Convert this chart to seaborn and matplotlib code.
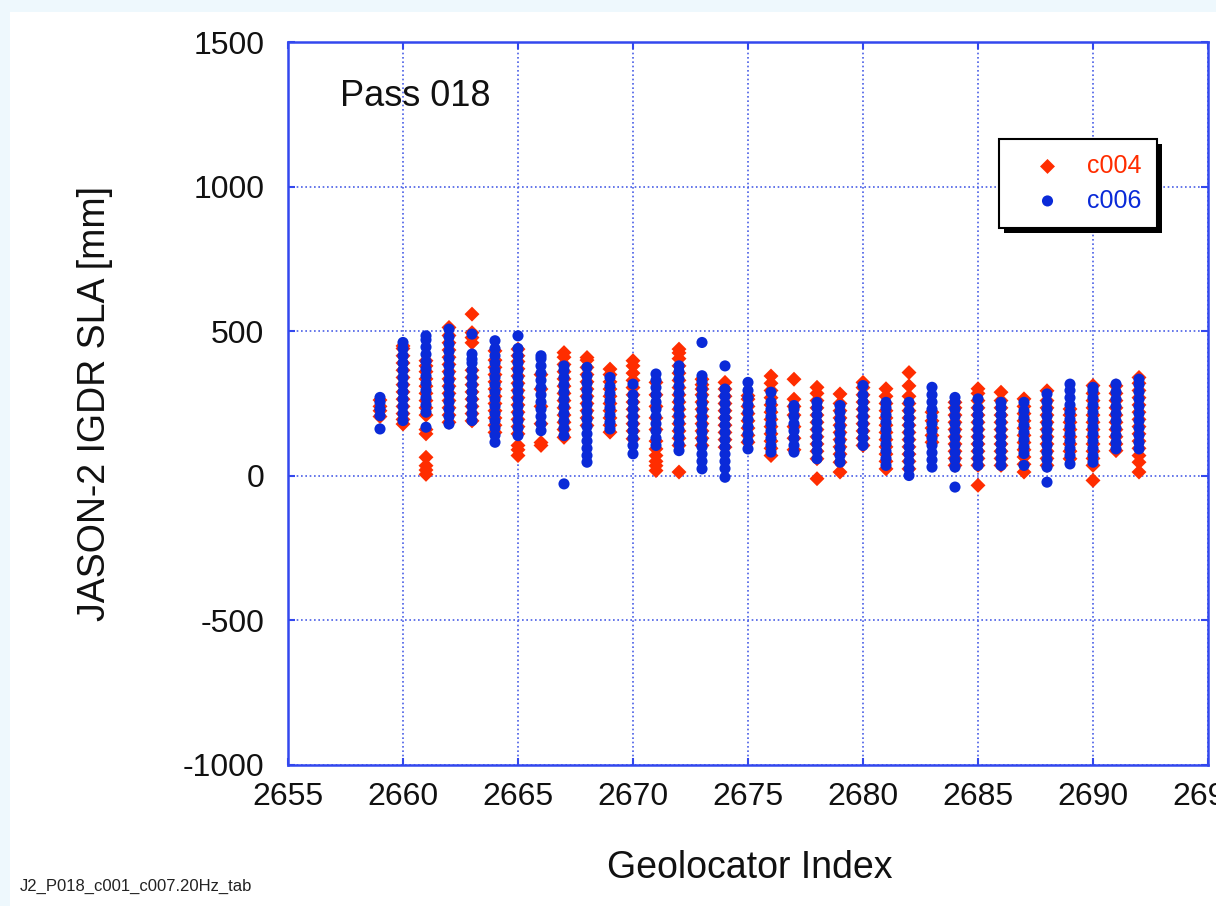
import pandas as pd
import seaborn as sns
import matplotlib.pyplot as plt
from matplotlib.patches import Rectangle

# Geolocator index of each column of points
geoloc = [2659, 2660, 2661, 2662, 2663, 2664, 2665, 2666, 2667, 2668,
          2669, 2670, 2671, 2672, 2673, 2674, 2675, 2676, 2677, 2678,
          2679, 2680, 2681, 2682, 2683, 2684, 2685, 2686, 2687, 2688,
          2689, 2690, 2691, 2692]

# SLA [mm] per geolocator index, cycle c004 (red diamonds)
c004_sla = [
    [205, 225, 240, 262],
    [179, 195, 215, 240, 265, 290, 315, 340, 365, 390, 415, 440, 449],
    [5, 20, 35, 64, 145, 160, 210, 235, 260, 285, 310, 335, 360, 380, 398],
    [185, 210, 235, 260, 285, 310, 335, 360, 385, 410, 435, 460, 485, 513],
    [190, 215, 240, 265, 290, 315, 340, 365, 460, 478, 495, 559],
    [150, 175, 200, 225, 250, 275, 300, 325, 350, 375, 400, 432],
    [70, 90, 105, 145, 170, 195, 220, 245, 270, 295, 320, 345, 370, 395, 415, 438],
    [105, 115, 180, 240, 300, 350],
    [133, 160, 185, 210, 235, 260, 285, 310, 335, 360, 385, 410, 426],
    [174, 200, 225, 250, 275, 300, 325, 350, 375, 400, 409],
    [151, 175, 200, 225, 250, 275, 300, 325, 350, 369],
    [128, 155, 180, 205, 230, 255, 280, 305, 330, 355, 380, 398],
    [18, 35, 50, 70, 93, 120, 160, 200, 240, 280, 323],
    [13, 105, 130, 155, 180, 205, 230, 255, 280, 305, 330, 355, 380, 405, 425, 438],
    [105, 130, 155, 180, 205, 230, 255, 280, 300, 315, 334],
    [99, 125, 150, 175, 200, 225, 250, 275, 300, 323],
    [116, 140, 165, 190, 215, 240, 265, 277],
    [70, 95, 120, 145, 170, 195, 220, 245, 270, 295, 320, 345],
    [90, 130, 170, 210, 240, 265, 334],
    [-10, 59, 85, 110, 135, 160, 185, 210, 235, 260, 285, 306],
    [13, 47, 75, 100, 125, 150, 175, 200, 225, 250, 283],
    [105, 130, 155, 180, 205, 230, 255, 280, 305, 323],
    [24, 50, 75, 100, 125, 150, 175, 200, 225, 250, 275, 301],
    [24, 50, 75, 100, 125, 150, 175, 200, 225, 250, 275, 311, 357],
    [116, 140, 165, 190, 220],
    [36, 60, 85, 110, 135, 160, 185, 210, 235, 254],
    [-33, 36, 60, 85, 110, 135, 160, 185, 210, 235, 260, 285, 301],
    [36, 60, 85, 110, 135, 160, 185, 210, 235, 260, 289],
    [13, 40, 65, 90, 115, 140, 165, 190, 215, 240, 266],
    [36, 60, 85, 110, 135, 160, 185, 210, 235, 260, 294],
    [59, 85, 110, 135, 160, 185, 210, 231],
    [-16, 36, 60, 85, 110, 135, 160, 185, 210, 235, 260, 285, 312],
    [87, 110, 135, 160, 185, 210, 235, 260, 285, 311],
    [13, 47, 70, 95, 120, 145, 170, 195, 220, 245, 270, 295, 320, 340],
]

# SLA [mm] per geolocator index, cycle c006 (blue circles)
c006_sla = [
    [162, 208, 231, 254, 271],
    [191, 215, 240, 265, 290, 315, 340, 365, 390, 415, 440, 461],
    [168, 220, 245, 270, 295, 320, 345, 370, 395, 420, 445, 470, 484],
    [179, 205, 230, 255, 280, 305, 330, 355, 380, 405, 430, 455, 480, 507],
    [191, 215, 240, 265, 290, 315, 340, 365, 390, 403, 421, 490],
    [116, 140, 165, 190, 215, 240, 265, 290, 315, 340, 365, 390, 415, 440, 467],
    [139, 165, 190, 215, 240, 265, 290, 315, 340, 365, 390, 415, 440, 484],
    [156, 180, 205, 230, 255, 280, 305, 330, 355, 380, 405, 415],
    [-28, 139, 165, 190, 215, 240, 265, 290, 315, 340, 365, 380],
    [47, 70, 95, 120, 145, 170, 195, 220, 245, 270, 295, 320, 345, 375],
    [162, 185, 210, 235, 260, 285, 310, 340],
    [76, 105, 130, 155, 180, 205, 230, 255, 280, 317],
    [105, 130, 155, 180, 205, 230, 255, 280, 305, 330, 352],
    [87, 110, 135, 160, 185, 210, 235, 260, 285, 310, 335, 360, 380],
    [24, 50, 75, 100, 125, 150, 175, 200, 225, 250, 275, 300, 325, 346, 461],
    [-5, 25, 50, 75, 100, 125, 150, 175, 200, 225, 250, 275, 300, 380],
    [93, 120, 145, 170, 195, 220, 245, 270, 295, 323],
    [82, 105, 130, 155, 180, 205, 230, 255, 289],
    [82, 105, 130, 155, 180, 205, 230, 243],
    [59, 85, 110, 135, 160, 185, 210, 235, 254],
    [47, 70, 95, 120, 145, 170, 195, 220, 243],
    [105, 130, 155, 180, 205, 230, 255, 280, 312],
    [36, 60, 85, 110, 135, 160, 185, 210, 235, 254],
    [1, 25, 50, 75, 100, 125, 150, 175, 200, 225, 254],
    [30, 55, 80, 105, 130, 155, 180, 205, 230, 255, 280, 306],
    [-39, 30, 55, 80, 105, 130, 155, 180, 205, 230, 255, 271],
    [36, 60, 85, 110, 135, 160, 185, 210, 235, 266],
    [36, 60, 85, 110, 135, 160, 185, 210, 235, 254],
    [36, 77, 100, 125, 150, 175, 200, 225, 254],
    [-22, 30, 55, 80, 105, 130, 155, 180, 205, 230, 255, 283],
    [41, 70, 95, 120, 145, 170, 195, 220, 245, 270, 295, 317],
    [47, 70, 95, 120, 145, 170, 195, 220, 245, 270, 295, 306],
    [93, 115, 140, 165, 190, 215, 240, 265, 290, 317],
    [93, 115, 140, 165, 190, 215, 240, 265, 290, 315, 334],
]

x_ticks = [2655, 2660, 2665, 2670, 2675, 2680, 2685, 2690, 2695]
y_ticks = [-1000, -500, 0, 500, 1000, 1500]

RED = '#ff2d00'
BLUE = '#0a2ad8'
FRAME = '#3348ee'


def to_frame(values):
    return pd.DataFrame(
        [(g, v) for g, vals in zip(geoloc, values) for v in vals],
        columns=['index', 'sla'],
    )


df004 = to_frame(c004_sla)
df006 = to_frame(c006_sla)

sns.set_theme(style='white')
plt.rcParams['font.family'] = ['Liberation Sans', 'DejaVu Sans']

fig = plt.figure(figsize=(12.16, 9.06), dpi=100, facecolor='#eef8fd')
# white sheet inside the light blue border
fig.patches.append(Rectangle((10 / 1216, 0), 1, 1 - 12 / 906, transform=fig.transFigure,
                             facecolor='white', edgecolor='none', zorder=-5))

ax = fig.add_axes([288 / 1216, 1 - 765 / 906, 920 / 1216, 723 / 906])
ax.set_facecolor('white')

sns.scatterplot(df004, x='index', y='sla', ax=ax, marker='D', s=58,
                color=RED, edgecolor='none', linewidth=0, label='c004', zorder=3)
sns.scatterplot(df006, x='index', y='sla', ax=ax, marker='o', s=64,
                color=BLUE, edgecolor='none', linewidth=0, label='c006', zorder=4)

ax.set_xlim(2655, 2695)
ax.set_ylim(-1000, 1500)
ax.set_xticks(x_ticks)
ax.set_yticks(y_ticks)
ax.set_xticklabels([str(t) for t in x_ticks])
ax.set_yticklabels([str(t) for t in y_ticks])

ax.grid(True, color='#4a5fe6', linestyle=(0, (1, 1.6)), linewidth=1.2)
for sp in ax.spines.values():
    sp.set_color(FRAME)
    sp.set_linewidth(1.8)

ax.tick_params(axis='both', which='both', direction='in', length=5, width=1.5,
               color=FRAME, labelsize=23, labelcolor='#111111',
               top=True, right=True, bottom=True, left=True)
ax.tick_params(axis='y', pad=17)
ax.tick_params(axis='x', pad=12)

ax.set_xlabel('Geolocator Index', fontsize=27, color='#111111')
ax.set_ylabel('JASON-2 IGDR SLA [mm]', fontsize=27, color='#111111')
ax.xaxis.set_label_coords(0.502, -0.118)
ax.yaxis.set_label_coords(-0.19, 0.5)

ax.text(0.0565, 0.924, 'Pass 018', transform=ax.transAxes, fontsize=26,
        color='#111111', va='center', ha='left')

leg = ax.legend(loc='upper right', bbox_to_anchor=(1157 / 1216, 1 - 139 / 906),
                bbox_transform=fig.transFigure, fontsize=18, frameon=True,
                fancybox=False, edgecolor='black', framealpha=1,
                handlelength=2.7, handletextpad=0.25, borderpad=0.6,
                labelspacing=0.42, borderaxespad=0, markerscale=1.0)
leg.get_frame().set_linewidth(1.5)
leg.set_zorder(10)
for txt, col in zip(leg.get_texts(), [RED, BLUE]):
    txt.set_color(col)

# hard black drop shadow under the legend box
fig.canvas.draw()
bb = leg.get_window_extent()
shadow = Rectangle((bb.x0 + 5, bb.y0 - 5), bb.width, bb.height, transform=None,
                   facecolor='black', edgecolor='none', zorder=9, clip_on=False)
ax.add_artist(shadow)

fig.text(20 / 1216, 1 - 891 / 906, 'J2_P018_c001_c007.20Hz_tab', fontsize=12,
         color='#222222', ha='left', va='baseline')

fig.savefig('out.png', dpi=100, facecolor=fig.get_facecolor())
